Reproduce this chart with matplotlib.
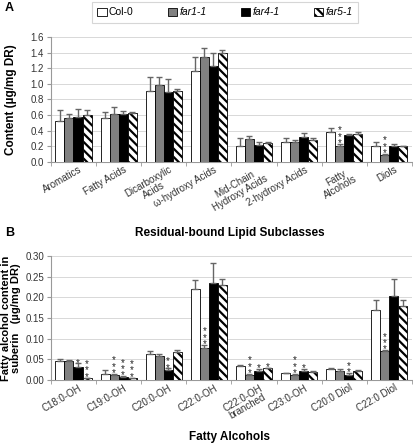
import matplotlib
matplotlib.use("Agg")
import matplotlib.pyplot as plt
import numpy as np
from matplotlib.patches import Patch
import matplotlib.transforms as mtransforms

plt.rcParams['font.family'] = ['Liberation Sans', 'DejaVu Sans']
plt.rcParams['hatch.linewidth'] = 1.6

genotypes = ["Col-0", "far1-1", "far4-1", "far5-1"]

cats_a = ["Aromatics", "Fatty Acids", "Dicarboxylic\nAcids", "ω-hydroxy Acids",
          "Mid-Chain\nHydroxy Acids", "2-hydroxy Acids", "Fatty\nAlcohols", "Diols"]
col0_a = [0.53, 0.56, 0.91, 1.17, 0.21, 0.26, 0.38, 0.21]
far1_a = [0.56, 0.62, 0.99, 1.35, 0.29, 0.25, 0.21, 0.09]
far4_a = [0.57, 0.61, 0.89, 1.23, 0.22, 0.32, 0.35, 0.21]
far5_a = [0.60, 0.63, 0.91, 1.40, 0.24, 0.28, 0.36, 0.20]
col0_a_err = [0.13, 0.08, 0.18, 0.17, 0.10, 0.05, 0.05, 0.04]
far1_a_err = [0.06, 0.08, 0.10, 0.11, 0.04, 0.03, 0.02, 0.01]
far4_a_err = [0.11, 0.04, 0.17, 0.16, 0.04, 0.05, 0.01, 0.02]
far5_a_err = [0.07, 0.01, 0.02, 0.04, 0.01, 0.03, 0.02, 0.00]
stars_a = {(6, 1): 3, (7, 1): 3}

cats_b = ["C18:0-OH", "C19:0-OH", "C20:0-OH", "C22:0-OH", "C22:0-OH\nbranched",
          "C23:0-OH", "C20:0 Diol", "C22:0 Diol"]
col0_b = [0.045, 0.015, 0.062, 0.221, 0.033, 0.016, 0.026, 0.169]
far1_b = [0.045, 0.011, 0.058, 0.077, 0.012, 0.012, 0.021, 0.069]
far4_b = [0.032, 0.008, 0.024, 0.234, 0.022, 0.022, 0.012, 0.203]
far5_b = [0.005, 0.005, 0.067, 0.229, 0.028, 0.020, 0.021, 0.180]
col0_b_err = [0.005, 0.008, 0.007, 0.021, 0.003, 0.002, 0.004, 0.024]
far1_b_err = [0.004, 0.003, 0.005, 0.008, 0.002, 0.002, 0.006, 0.003]
far4_b_err = [0.008, 0.001, 0.004, 0.049, 0.004, 0.005, 0.004, 0.042]
far5_b_err = [0.001, 0.001, 0.006, 0.016, 0.002, 0.001, 0.004, 0.013]
stars_b = {(0, 2): 1, (0, 3): 3, (1, 1): 3, (1, 2): 3, (1, 3): 3, (2, 2): 2,
           (3, 1): 3, (4, 1): 3, (4, 2): 1, (4, 3): 1, (5, 1): 3, (5, 2): 1,
           (6, 2): 2, (7, 1): 3}

faces = ["white", "#808080", "black", "white"]
hatches = [None, None, None, "\\\\\\\\"]
ecol = "#666666"

fig = plt.figure(figsize=(4.14, 4.46), dpi=100)
axA = fig.add_axes([0.123, 0.637, 0.872, 0.280])
axB = fig.add_axes([0.123, 0.148, 0.872, 0.278])


def draw(ax, cats, vals, errs, stars, ymax, ystep, fmt):
    x = np.arange(len(cats))
    w = 0.2
    for i, (v, e) in enumerate(zip(vals, errs)):
        xs = x + (i - 1.5) * w
        ax.bar(xs, v, width=w, color=faces[i], edgecolor="black", linewidth=0.6,
               hatch=hatches[i], zorder=3)
        ax.errorbar(xs, v, yerr=[np.zeros(len(v)), e], fmt="none", ecolor=ecol,
                    elinewidth=1.0, capsize=2.2, capthick=1.0, zorder=4)
    for (c, g), n in stars.items():
        top = vals[g][c] + errs[g][c]
        xs = x[c] + (g - 1.5) * w
        ax.annotate("\n".join(["*"] * n), xy=(xs, top), xytext=(0, -3.0),
                    textcoords="offset points", ha="center", va="bottom",
                    fontsize=7, color="#222222", zorder=5, linespacing=0.55,
                    multialignment="center")
    ax.set_xlim(-0.5, len(cats) - 0.5)
    ax.set_ylim(0, ymax)
    ticks = np.arange(0, ymax + ystep / 2, ystep)
    ax.set_yticks(ticks)
    ax.set_yticklabels([fmt.format(t) for t in ticks], fontsize=7, color="#333333")
    ax.yaxis.grid(True, color="#d8d8d8", linewidth=0.7, zorder=0)
    ax.set_axisbelow(True)
    for s in ["top", "right"]:
        ax.spines[s].set_visible(False)
    for s in ["left", "bottom"]:
        ax.spines[s].set_color("#999999")
        ax.spines[s].set_linewidth(0.8)
    ax.tick_params(axis="y", length=3, color="#999999", pad=2)
    ax.set_xticks(np.arange(len(cats) + 1) - 0.5, minor=True)
    ax.set_xticks(x)
    ax.tick_params(axis="x", which="major", length=0, pad=2)
    ax.tick_params(axis="x", which="minor", length=3, color="#999999")
    ax.set_xticklabels(cats, rotation=30, ha="right", rotation_mode="anchor",
                       fontsize=7, color="#333333", linespacing=1.0,
                       multialignment="center")


vals_a = [col0_a, far1_a, far4_a, far5_a]
errs_a = [col0_a_err, far1_a_err, far4_a_err, far5_a_err]
vals_b = [col0_b, far1_b, far4_b, far5_b]
errs_b = [col0_b_err, far1_b_err, far4_b_err, far5_b_err]

draw(axA, cats_a, vals_a, errs_a, stars_a, 1.6, 0.2, "{:.1f}")
draw(axB, cats_b, vals_b, errs_b, stars_b, 0.30, 0.05, "{:.2f}")

for ax in (axA, axB):
    for lab in ax.get_xticklabels():
        lab.set_transform(lab.get_transform() +
                          mtransforms.ScaledTranslation(5 / 100, 0, fig.dpi_scale_trans))

axA.set_ylabel("Content (µg/mg DR)", fontsize=8.5, fontweight="bold")
axB.set_ylabel("Fatty alcohol content in\nsuberin   (µg/mg DR)", fontsize=8,
               fontweight="bold", linespacing=1.0)
axA.yaxis.set_label_coords(-0.095, 0.5)
axB.yaxis.set_label_coords(-0.082, 0.5)

fig.text(0.012, 0.982, "A", fontsize=9, fontweight="bold", va="center")
fig.text(0.012, 0.478, "B", fontsize=9, fontweight="bold", va="center")
fig.text(0.555, 0.478, "Residual-bound Lipid Subclasses", fontsize=8.5,
         fontweight="bold", ha="center", va="center")
fig.text(0.555, 0.020, "Fatty Alcohols", fontsize=8.5, fontweight="bold",
         ha="center", va="center")

handles = [Patch(facecolor=faces[i], edgecolor="black", linewidth=0.6, hatch=hatches[i])
           for i in range(4)]
leg = fig.legend(handles, genotypes, loc="center", bbox_to_anchor=(0.543, 0.972),
                 ncol=4, fontsize=7.5, frameon=True, fancybox=False,
                 edgecolor="#cccccc", handlelength=0.9, handleheight=0.9,
                 handletextpad=0.2, columnspacing=3.3, borderpad=0.5)
leg.get_frame().set_linewidth(0.8)
for t in leg.get_texts()[1:]:
    t.set_style("italic")

fig.savefig("out.png", dpi=100)
